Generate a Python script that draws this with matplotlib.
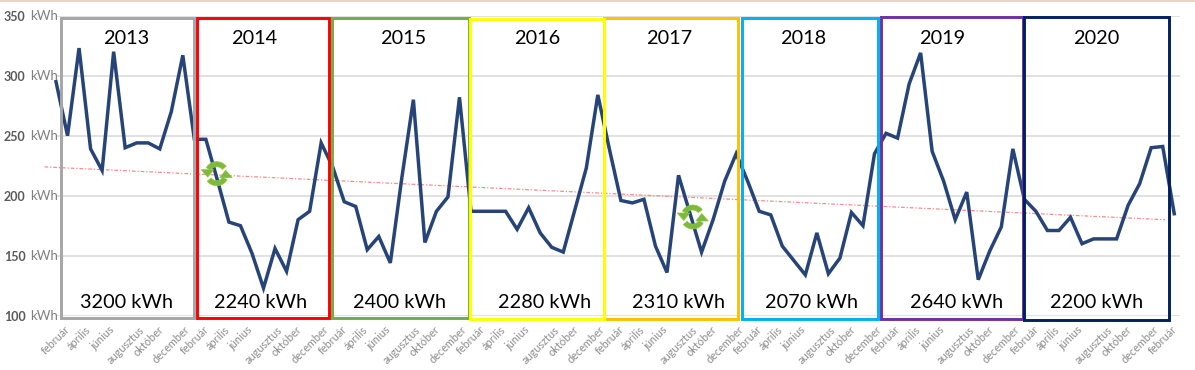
import numpy as np
from matplotlib import pyplot as plt
from matplotlib.patches import Rectangle, Polygon

plt.rcParams['font.family'] = ['Lato', 'DejaVu Sans']

# monthly consumption, kWh
values = [295, 250, 323, 239, 221, 320, 240, 244, 244, 239, 270, 317,
          247, 247, 213, 178, 175, 152, 123, 156, 137, 180, 187, 244,
          224, 195, 191, 155, 166, 144, 215, 280, 161, 187, 199, 282,
          187, 187, 187, 187, 172, 190, 169, 157, 153, 188, 223, 284,
          239, 196, 194, 197, 158, 136, 217, 185, 153, 180, 212, 235,
          212, 187, 184, 158, 146, 134, 169, 135, 148, 186, 175, 235,
          252, 248, 293, 319, 237, 212, 180, 203, 130, 154, 174, 239,
          197, 187, 171, 171, 182, 160, 164, 164, 164, 192, 210, 240,
          241, 185]
month_names = ['február', 'április', 'június', 'augusztus', 'október', 'december']
y_ticks = [100, 150, 200, 250, 300, 350]
trend_x = [-1, 96.2]
trend_y = [224, 180]

years = ['2013', '2014', '2015', '2016', '2017', '2018', '2019', '2020']
totals = ['3200 kWh', '2240 kWh', '2400 kWh', '2280 kWh', '2310 kWh', '2070 kWh', '2640 kWh', '2200 kWh']

# annotation layout in pixels of the picture
box_colors = ['#A6A6A6', '#FF0000', '#70AD47', '#FFC000', '#FFFF00', '#00B0F0', '#7030A0', '#002060']
box_edges = [(61, 194, 18, 318), (196.7, 329, 18, 318), (332, 469, 18, 318), (604, 738, 18, 319),
             (470, 604, 19, 319), (742, 878, 18, 319), (881, 1023, 17, 319), (1024, 1169, 17, 320)]
year_x = [126, 254, 403, 537, 669, 803, 942, 1096]
total_x = [127, 261, 400, 545, 679, 812, 957, 1097]
icons = [(216.7, 173.7), (692.8, 217)]

W, H = 1195, 370
fig = plt.figure(figsize=(W / 100, H / 100), dpi=100)
ax = fig.add_axes([56 / W, 1 - 315.7 / H, 1124 / W, 300 / H])

x = np.arange(len(values))
ax.plot(x, values, color='#264478', linewidth=2.5, solid_joinstyle='miter', clip_on=False, zorder=3)
ax.plot(trend_x, trend_y, color='#FF8A8A', linewidth=0.9, linestyle=(0, (3, 1.5, 1, 1.5)), clip_on=False, zorder=2)

ax.set_xlim(0, 97.5)
ax.set_ylim(100, 350)
ax.set_yticks(y_ticks)
ax.set_yticklabels([str(v) for v in y_ticks], fontsize=9, color='#595959', fontweight='bold')
ax.set_xticks(x[::2])
ax.set_xticklabels([month_names[i % 6] for i in range(len(x[::2]))], rotation=45, ha='center',
                   fontsize=7.8, color='#8C8C8C')
ax.tick_params(axis='y', length=0, pad=22)
ax.tick_params(axis='x', length=0, pad=6)
ax.grid(axis='y', color='#D9D9D9', linewidth=1.1)
ax.set_axisbelow(True)
for s in ax.spines.values():
    s.set_visible(False)

for v in y_ticks:
    ax.text(-26 / 1124, v, 'kWh', transform=ax.get_yaxis_transform(), fontsize=9.5, color='#7F7F7F',
            va='center', ha='left', clip_on=False)

# overlay in pixel coordinates
ov = fig.add_axes([0, 0, 1, 1])
ov.set_xlim(0, W)
ov.set_ylim(H, 0)
ov.axis('off')
ov.patch.set_alpha(0)

ov.plot([0, W], [1, 1], color='#E8CDBD', linewidth=1.2)

for (x0, x1, y0, y1), c in zip(box_edges, box_colors):
    ov.add_patch(Rectangle((x0, y0), x1 - x0, y1 - y0, fill=False, edgecolor=c, linewidth=2.1))

for t, px in zip(years, year_x):
    ov.text(px, 38.5, t, fontsize=14.3, color='black', ha='center', va='center')
for t, px in zip(totals, total_x):
    ov.text(px, 302, t, fontsize=14.3, color='black', ha='center', va='center')


def arrow_arc(cx, cy, start, end, s):
    # half ring plus head; s=1 is the upper arrow, s=-1 the lower one
    a = np.radians(np.linspace(start, end, 30))
    outer = np.c_[cx + 12 * np.cos(a), cy - 12 * np.sin(a)]
    inner = np.c_[cx + 7 * np.cos(a[::-1]), cy - 7 * np.sin(a[::-1])]
    head = [(cx - 15.5 * s, cy - 4 * s), (cx - 3 * s, cy - 4 * s), (cx - 9 * s, cy + 3.5 * s)]
    for pts in (np.r_[outer, inner], head):
        ov.add_patch(Polygon(pts, closed=True, facecolor='#7DB93C', edgecolor='#8CC63F', linewidth=0.5, zorder=5))


for cx, cy in icons:
    arrow_arc(cx, cy, 38, 150, 1)
    arrow_arc(cx, cy, 218, 330, -1)

fig.savefig('out.png', dpi=100)
